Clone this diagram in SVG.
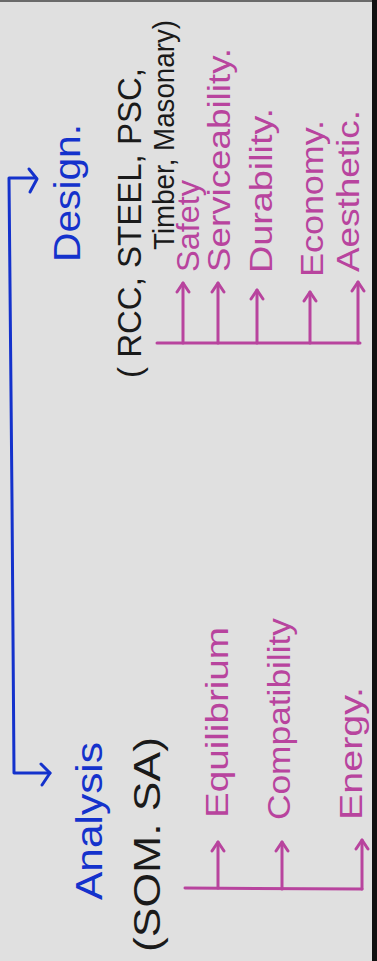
<svg xmlns="http://www.w3.org/2000/svg" width="377" height="961" viewBox="0 0 377 961">
<style>
.bg{fill:#e0e0e0}
.blue{fill:none;stroke:#1432cc;stroke-width:3;stroke-linecap:round;stroke-linejoin:round}
.mag{fill:none;stroke:#b8449e;stroke-width:3;stroke-linecap:round;stroke-linejoin:round}
.tb{fill:#1432cc;font-family:"Liberation Sans",Arial,sans-serif}
.tk{fill:#1a1a1a;font-family:"Liberation Sans",Arial,sans-serif}
.tm{fill:#b8449e;font-family:"Liberation Sans",Arial,sans-serif}
</style>
<rect class="bg" x="0" y="0" width="377" height="961"/>
<rect x="0" y="0" width="377" height="2" fill="#6a6a6a"/>
<rect x="372" y="0" width="5" height="961" fill="#111"/>

<g id="connectors">
  <!-- blue main connector -->
  <path class="blue" d="M36,178 L9,178 L12,500 L14,773 L50,773"/>
  <path class="blue" d="M29,169 L37,179 L30,192"/>
  <path class="blue" d="M41,764 L50,773 L42,785"/>
  <!-- design bracket -->
  <path class="mag" d="M157,343 L360,343"/>
  <path class="mag" d="M183,343 L183,283 M218,343 L218,283 M257,343 L257,290 M310,343 L310,292 M358,343 L358,282"/>
  <path class="mag" d="M177,292 L183,283 L189,292 M212,292 L218,283 L224,292 M251,299 L257,290 L263,299 M304,301 L310,292 L316,301 M352,291 L358,282 L364,291"/>
  <!-- analysis bracket -->
  <path class="mag" d="M185,888 L362,889"/>
  <path class="mag" d="M218,888 L218,842 M282,889 L282,842 M362,889 L362,840"/>
  <path class="mag" d="M212,851 L218,842 L224,851 M276,851 L282,842 L288,851 M356,849 L362,840 L368,849"/>
</g>

<g id="design">
  <text class="tb" font-size="36" textLength="138" lengthAdjust="spacingAndGlyphs" transform="translate(80,262) rotate(-90)">Design.</text>
</g>
<g id="design-materials">
  <text class="tk" font-size="34" textLength="310" lengthAdjust="spacingAndGlyphs" transform="translate(141,378) rotate(-90)">( RCC, STEEL, PSC,</text>
  <text class="tk" font-size="29" textLength="230" lengthAdjust="spacingAndGlyphs" transform="translate(174,250) rotate(-90)">Timber, Masonary)</text>
</g>
<g id="safety"><text class="tm" font-size="32" textLength="92" lengthAdjust="spacingAndGlyphs" transform="translate(199,272) rotate(-90)">Safety</text></g>
<g id="serviceability"><text class="tm" font-size="32" textLength="224" lengthAdjust="spacingAndGlyphs" transform="translate(230,272) rotate(-90)">Serviceability.</text></g>
<g id="durability"><text class="tm" font-size="32" textLength="165" lengthAdjust="spacingAndGlyphs" transform="translate(272,273) rotate(-90)">Durability.</text></g>
<g id="economy"><text class="tm" font-size="32" textLength="157" lengthAdjust="spacingAndGlyphs" transform="translate(323,277) rotate(-90)">Economy.</text></g>
<g id="aesthetic"><text class="tm" font-size="32" textLength="162" lengthAdjust="spacingAndGlyphs" transform="translate(359,272) rotate(-90)">Aesthetic.</text></g>

<g id="analysis">
  <text class="tb" font-size="36" textLength="158" lengthAdjust="spacingAndGlyphs" transform="translate(102,900) rotate(-90)">Analysis</text>
</g>
<g id="analysis-methods">
  <text class="tk" font-size="36" textLength="215" lengthAdjust="spacingAndGlyphs" transform="translate(160,952) rotate(-90)">(SOM. SA)</text>
</g>
<g id="equilibrium"><text class="tm" font-size="32" textLength="191" lengthAdjust="spacingAndGlyphs" transform="translate(228,818) rotate(-90)">Equilibrium</text></g>
<g id="compatibility"><text class="tm" font-size="32" textLength="202" lengthAdjust="spacingAndGlyphs" transform="translate(290,820) rotate(-90)">Compatibility</text></g>
<g id="energy"><text class="tm" font-size="32" textLength="133" lengthAdjust="spacingAndGlyphs" transform="translate(362,820) rotate(-90)">Energy.</text></g>
</svg>
